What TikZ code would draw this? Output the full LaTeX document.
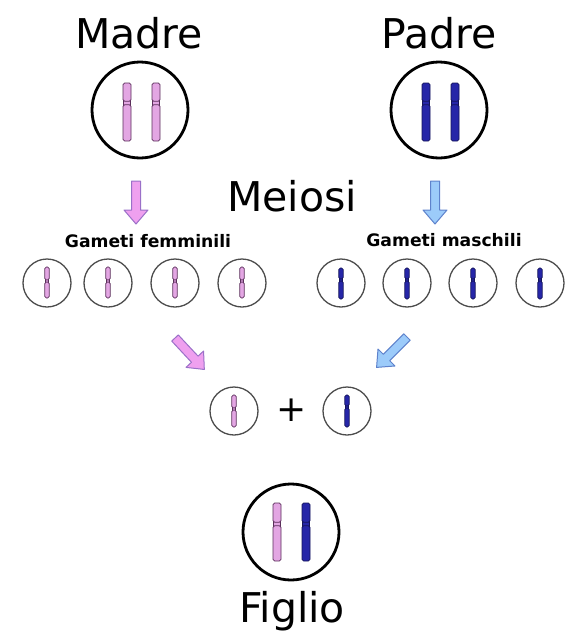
\documentclass[tikz,border=0pt]{standalone}
\usepackage{fontspec}
\setmainfont{DejaVu Sans}
\usetikzlibrary{shapes.geometric}

\definecolor{chrpink}{HTML}{E3A6E3}
\definecolor{chrpinkline}{HTML}{5A2E5A}
\definecolor{chrblue}{HTML}{2626A8}
\definecolor{chrblueline}{HTML}{14145A}
\definecolor{arrpink}{HTML}{EFA0EF}
\definecolor{arrpinkline}{HTML}{9A70C8}
\definecolor{arrblue}{HTML}{9CCBFA}
\definecolor{arrblueline}{HTML}{5E82CC}

% one chromosome: x, top, centromere, bottom, half width, style
\newcommand{\chromo}[6]{%
  \filldraw[#6] ({#1-0.8*#5},{#3-0.9*#5}) rectangle ({#1+0.8*#5},{#3+0.9*#5});
  \filldraw[#6,rounded corners=1.6pt] ({#1-#5},{#2}) rectangle ({#1+#5},{#3-0.45*#5});
  \filldraw[#6,rounded corners=1.6pt] ({#1-#5},{#3+0.45*#5}) rectangle ({#1+#5},{#4});
}

\tikzset{
  blockarrow/.pic={
    \filldraw[pic actions,line width=1pt,line join=round]
      (-4.5,0) -- (4.5,0) -- (4.5,29) -- (12,29) -- (0,43)
      -- (-12,29) -- (-4.5,29) -- cycle;
  }
}

\begin{document}
\begin{tikzpicture}[
  x=1pt,y=-1pt,
  bigcell/.style={draw,circle,line width=2.8pt,minimum size=96pt,inner sep=0pt},
  gamete/.style={draw=black!70,circle,line width=1.3pt,minimum size=48pt,inner sep=0pt},
  title/.style={anchor=base,inner sep=0pt,font=\fontsize{41}{41}\selectfont},
  caption/.style={anchor=base,inner sep=0pt,font=\fontsize{17.2}{18}\selectfont\bfseries},
  mom/.style={fill=chrpink,draw=chrpinkline,line width=0.8pt},
  dad/.style={fill=chrblue,draw=chrblueline,line width=0.8pt},
  momarrow/.style={fill=arrpink,draw=arrpinkline},
  dadarrow/.style={fill=arrblue,draw=arrblueline}
]
  \useasboundingbox (0,0) rectangle (572,632);

  % parents
  \node[title] (madre) at (139,48) {Madre};
  \node[title] (padre) at (439,48) {Padre};
  \node[bigcell] (madrecell) at (140,110) {};
  \node[bigcell] (padrecell) at (439,110) {};
  \chromo{127}{83}{103}{141}{4}{mom}
  \chromo{156}{83}{103}{141}{4}{mom}
  \chromo{426}{83}{103}{141}{4}{dad}
  \chromo{455}{83}{103}{141}{4}{dad}

  % meiosis
  \node[title] (meiosi) at (292,211) {Meiosi};
  \pic[momarrow] at (136,181) {blockarrow};
  \pic[dadarrow] at (435,181) {blockarrow};

  \node[caption] (femm) at (148,247) {Gameti femminili};
  \node[caption] (masc) at (444,246) {Gameti maschili};

  % gametes
  \foreach \gx [count=\i] in {47,108,175,242} {
    \node[gamete] (f\i) at (\gx,283) {};
    \chromo{\gx}{267}{281}{298}{2.2}{mom}
  }
  \foreach \gx [count=\i] in {341,407,473,540} {
    \node[gamete] (m\i) at (\gx,283) {};
    \chromo{\gx}{268}{280}{299}{2.2}{dad}
  }

  % fertilisation
  \pic[momarrow,rotate=43] at (175,338) {blockarrow};
  \pic[dadarrow,rotate=-45] at (407,337) {blockarrow};
  \node[gamete] (ovulo) at (234,411) {};
  \chromo{234}{395}{409}{427}{2.2}{mom}
  \node[title,anchor=center,font=\fontsize{36}{36}\selectfont] (plus) at (292,410) {+};
  \node[gamete] (sperma) at (347,411) {};
  \chromo{347}{395}{407}{427}{2.2}{dad}

  % offspring
  \node[bigcell] (figliocell) at (291,532) {};
  \chromo{277}{503}{524}{561}{4}{mom}
  \chromo{306}{503}{524}{561}{4}{dad}
  \node[title] (figlio) at (292,622) {Figlio};
\end{tikzpicture}
\end{document}
